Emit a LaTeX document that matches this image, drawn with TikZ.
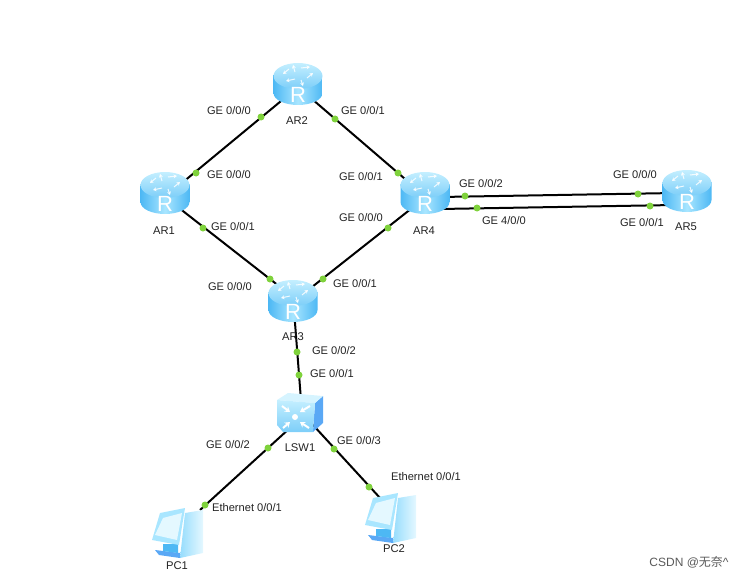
\documentclass[tikz,border=0pt]{standalone}
\usepackage{fontspec}
\setmainfont{Liberation Sans}
\newfontfamily\cjkfont{Noto Sans CJK SC}
\usetikzlibrary{backgrounds,arrows.meta}
\definecolor{iconedge}{HTML}{4DB8F4}
\definecolor{iconmid}{HTML}{A9E6FF}
\definecolor{icontop}{HTML}{C4EFFF}
\definecolor{icondeep}{HTML}{5AA8F5}
\definecolor{dotgreen}{HTML}{7FD23C}
\definecolor{labelgray}{HTML}{222222}
\tikzset{
  anchorbox/.style={inner sep=0pt, minimum size=2pt},
  portdot/.style={circle, fill=dotgreen, inner sep=0pt, minimum size=7pt},
  portlabel/.style={font=\fontsize{11.1}{12}\selectfont, text=labelgray, inner sep=0pt},
  devlabel/.style={font=\fontsize{11.2}{13}\selectfont, text=labelgray, inner sep=0pt},
  wire/.style={draw=black, line width=2pt},
  whitearrow/.style={draw=white, line width=1pt, opacity=0.85, -{Stealth[length=3.5pt,width=4pt]}},
  boxarrow/.style={draw=white, line width=2pt, -{Stealth[length=5pt,width=6.5pt]}},
  rname/.initial=rtext,
  router/.pic={
    % 圆柱
    \shade[left color=iconedge, right color=iconedge, middle color=iconmid]
      (-24.5,-9) -- (-24.5,9) .. controls (-24.5,16) and (-13,21) .. (0,21)
      .. controls (13,21) and (24.5,16) .. (24.5,9) -- (24.5,-9) -- cycle;
    \shade[top color=icontop, bottom color=iconedge!60!icontop] (0,-8) ellipse [x radius=24.5, y radius=13];
    % 箭头
    \draw[whitearrow] (-3,-12) -- (-5,-19);
    \draw[whitearrow] (-9,-15) -- (-15,-10);
    \draw[whitearrow] (3,-4) -- (5,2);
    \draw[whitearrow] (9,-6) -- (15,-11);
    \draw[whitearrow] (-3,-5) -- (-12,-3);
    \draw[whitearrow] (3,-16) -- (12,-17);
    \node[name=\pgfkeysvalueof{/tikz/rname}, text=white, inner sep=0pt, font=\fontsize{22}{22}\selectfont] at (0,11) {R};
  },
  switchbox/.pic={
    % 侧面和顶面
    \fill[icondeep] (15,-10) -- (23,-17) -- (23,10) -- (13,19) -- cycle;
    \fill[icontop!70!white] (-23,-13) -- (-12,-20) -- (23,-17) -- (15,-10) -- cycle;
    \shade[top color=icontop, bottom color=iconedge!60!icontop] (-23,-13) -- (15,-10) -- (13,19) -- (-17,19) -- (-23,12) -- cycle;
    \fill[white] (-5,4) circle (3pt);
    \draw[boxarrow] (-18,-7) -- (-10,-1);
    \draw[boxarrow] (10,-7) -- (0,-1);
    \draw[boxarrow] (-17,15) -- (-10,9);
    \draw[boxarrow] (9,15) -- (0,9);
  },
  pcbox/.pic={
    % 主机
    \shade[left color=iconmid!80!iconedge, right color=icontop!45!white] (6,-19) -- (24,-22) -- (24,21) -- (1,26) -- cycle;
    % 底座
    \fill[icondeep] (-24,18) -- (1,21) -- (1,26) -- (-20,23) -- cycle;
    \fill[iconedge] (-16,12) -- (-1,12) -- (-1,21) -- (-16,19) -- cycle;
    % 显示器
    \fill[iconmid] (-19,-19) -- (6,-24) -- (0,13) -- (-27,8) -- cycle;
    \fill[white!55!icontop] (-16,-14) -- (3,-19) -- (-2,8) -- (-24,3) -- cycle;
  },
}
\begin{document}
\begin{tikzpicture}[x=1pt, y=-1pt]
  \useasboundingbox (0,0) rectangle (745,578);

  % 设备
  \node[anchorbox] (AR1) at (165,197) {};
  \node[anchorbox] (AR2) at (298,87) {};
  \node[anchorbox] (AR3) at (293,297) {};
  \node[anchorbox] (AR4) at (426,197) {};
  \node[anchorbox] (AR5) at (687,195) {};
  \node[anchorbox] (LSW1) at (302,413) {};
  \node[anchorbox] (PC1) at (200,510) {};
  \node[anchorbox] (PC2) at (381,499) {};
  \pic[rname=rtext1] at (165,193) {router};
  \pic[rname=rtext2] at (298,84) {router};
  \pic[rname=rtext3] at (293,301) {router};
  \pic[rname=rtext4] at (425,193) {router};
  \pic[rname=rtext5] at (687,191) {router};
  \pic at (300,413) {switchbox};
  \pic at (179,532) {pcbox};
  \pic at (392,517) {pcbox};

  % 另外的端点
  \coordinate (AR3b) at (293,302);
  \coordinate (LSW1b) at (302,417);
  \coordinate (AR4a) at (440,197);
  \coordinate (AR5a) at (675,193);
  \coordinate (AR4b) at (440,209);
  \coordinate (AR5b) at (675,205);

  % 连线
  \begin{scope}[on background layer]
    \draw[wire] (AR1.center) -- (AR2.center);
    \draw[wire] (AR2.center) -- (AR4.center);
    \draw[wire] (AR1.center) -- (AR3.center);
    \draw[wire] (AR3b) -- (AR4.center);
    \draw[wire] (AR3.center) -- (LSW1.center);
    \draw[wire] (LSW1b) -- (PC1.center);
    \draw[wire] (LSW1.center) -- (PC2.center);
    \draw[wire] (AR4a) -- (AR5a);
    \draw[wire] (AR4b) -- (AR5b);
  \end{scope}

  % 端口圆点
  \foreach \i/\px/\py in {1/261/117, 2/335/119, 3/196/173, 4/203/228, 5/270/279, 6/323/279,
      7/398/173, 8/388/228, 9/297/352, 10/299/375, 11/268/448, 12/334/449, 13/205/505,
      14/369/487, 15/465/196, 16/638/194, 17/477/208, 18/650/206}
    \node[portdot] (dot\i) at (\px,\py) {};

  % 端口标签
  \foreach \i/\px/\py/\txt in {1/229/111/GE 0\slash 0\slash 0, 2/363/111/GE 0\slash 0\slash 1,
      3/229/175/GE 0\slash 0\slash 0, 4/233/227/GE 0\slash 0\slash 1, 5/361/177/GE 0\slash 0\slash 1,
      6/361/218/GE 0\slash 0\slash 0, 7/230/287/GE 0\slash 0\slash 0, 8/355/284/GE 0\slash 0\slash 1,
      9/334/351/GE 0\slash 0\slash 2, 10/332/374/GE 0\slash 0\slash 1, 11/228/445/GE 0\slash 0\slash 2,
      12/359/441/GE 0\slash 0\slash 3, 13/247/508/Ethernet 0\slash 0\slash 1, 14/426/477/Ethernet 0\slash 0\slash 1,
      15/481/184/GE 0\slash 0\slash 2, 16/504/221/GE 4\slash 0\slash 0, 17/635/175/GE 0\slash 0\slash 0,
      18/642/223/GE 0\slash 0\slash 1}
    \node[portlabel] (port\i) at (\px,\py) {\txt};

  % 设备名称
  \foreach \i/\px/\py/\txt in {1/164/231/AR1, 2/297/121/AR2, 3/293/337/AR3, 4/424/231/AR4,
      5/686/227/AR5, 6/300/448/LSW1, 7/177/566/PC1, 8/394/549/PC2}
    \node[devlabel] (dev\i) at (\px,\py) {\txt};

  % 水印
  \node[inner sep=0pt, text=black!65, font=\fontsize{12}{14}\selectfont] (mark) at (689,562) {CSDN @{\cjkfont 无奈}\^{}};
\end{tikzpicture}
\end{document}
